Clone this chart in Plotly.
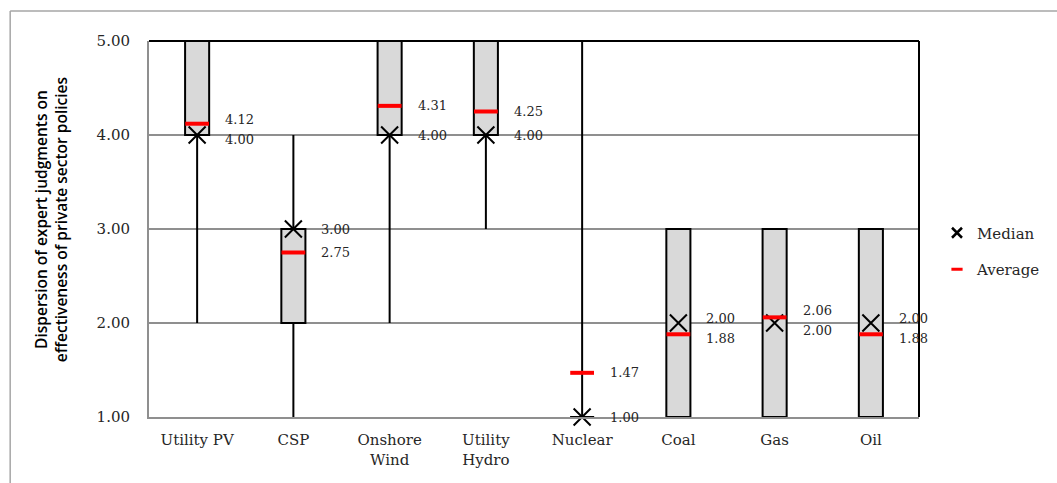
import plotly.graph_objects as go

# ---- data ----
categories = ["Utility PV", "CSP", "Onshore<br>Wind", "Utility<br>Hydro",
              "Nuclear", "Coal", "Gas", "Oil"]
low_vals = [2, 1, 2, 3, 1, 1, 1, 1]
high_vals = [5, 4, 5, 5, 5, 3, 3, 3]
q1_vals = [4, 2, 4, 4, 1, 1, 1, 1]
q3_vals = [5, 3, 5, 5, 1, 3, 3, 3]
median_vals = [4.00, 3.00, 4.00, 4.00, 1.00, 2.00, 2.00, 2.00]
average_vals = [4.12, 2.75, 4.31, 4.25, 1.47, 1.88, 2.06, 1.88]
y_ticks = [1, 2, 3, 4, 5]

SERIF = "DejaVu Serif"
TXT = "#262626"
GRID = "#8f8f8f"

L, R, T, B = 149, 137, 41, 66
W, H = 1057, 483
plot_w = W - L - R
plot_h = H - T - B
px_per_unit = plot_h / (y_ticks[-1] - y_ticks[0])

fig = go.Figure()

# whiskers (main subplot, beneath boxes)
wx, wy = [], []
for c, lo, hi in zip(categories, low_vals, high_vals):
    wx += [c, c, None]
    wy += [lo, hi, None]
fig.add_trace(go.Scatter(x=wx, y=wy, mode="lines", line=dict(color="black", width=2),
                         showlegend=False, hoverinfo="skip", xaxis="x", yaxis="y"))

# boxes (overlay subplot)
fig.add_trace(go.Bar(x=categories, y=[b - a for a, b in zip(q1_vals, q3_vals)], base=q1_vals,
                     width=0.25, marker=dict(color="#d9d9d9", line=dict(color="black", width=2)),
                     showlegend=False, hoverinfo="skip", xaxis="x2", yaxis="y2"))

# markers
fig.add_trace(go.Scatter(x=categories, y=median_vals, mode="markers", name="Median",
                         marker=dict(symbol="x-thin-open", size=17, color="black",
                                     line=dict(color="black", width=2)),
                         cliponaxis=False, showlegend=False, xaxis="x2", yaxis="y2"))
fig.add_trace(go.Scatter(x=categories, y=average_vals, mode="markers", name="Average",
                         marker=dict(symbol="line-ew-open", size=17, color="red",
                                     line=dict(color="red", width=4)),
                         cliponaxis=False, showlegend=False, xaxis="x2", yaxis="y2"))

# legend proxies
fig.add_trace(go.Scatter(x=[None], y=[None], mode="markers", name="Median", legendgroup="m",
                         marker=dict(symbol="x-thin-open", size=10, color="black",
                                     line=dict(color="black", width=2.5)),
                         xaxis="x2", yaxis="y2"))
fig.add_trace(go.Scatter(x=[None], y=[None], mode="markers", name="Average", legendgroup="a",
                         marker=dict(symbol="line-ew-open", size=8, color="red",
                                     line=dict(color="red", width=3)),
                         xaxis="x2", yaxis="y2"))

# value labels
annotations = []
min_sep = 20
for c, m, a in zip(categories, median_vals, average_vals):
    gap = abs(m - a) * px_per_unit
    d = max(0.0, (min_sep - gap) / 2)
    m_shift = d if m >= a else -d
    a_shift = -m_shift
    for v, s in ((m, m_shift), (a, a_shift)):
        annotations.append(dict(x=c, y=v, xref="x", yref="y", text=f"{v:.2f}",
                                showarrow=False, xanchor="left", yanchor="middle",
                                xshift=26, yshift=s,
                                font=dict(family=SERIF, size=13, color=TXT)))

# y-axis title
annotations.append(dict(x=(51 - L) / plot_w, y=(H - B - 220) / plot_h, xref="paper", yref="paper",
                        text="Dispersion of expert judgments on<br>effectiveness of private sector policies",
                        textangle=-90, showarrow=False, xanchor="center", yanchor="middle",
                        font=dict(family="Open Sans", size=15.5, color="black", weight=600)))

shapes = [
    dict(type="line", xref="paper", yref="paper", x0=0, x1=1, y0=1, y1=1,
         line=dict(color="black", width=2)),
    dict(type="line", xref="paper", yref="paper", x0=1, x1=1, y0=0, y1=1,
         line=dict(color="black", width=2)),
    # outer frame
    dict(type="line", xref="paper", yref="paper", x0=(10 - L) / plot_w, x1=(W + 5 - L) / plot_w,
         y0=(H - B - 11) / plot_h, y1=(H - B - 11) / plot_h, line=dict(color="#a6a6a6", width=1.5)),
    dict(type="line", xref="paper", yref="paper", x0=(10 - L) / plot_w, x1=(10 - L) / plot_w,
         y0=-(B + 5) / plot_h, y1=(H - B - 11) / plot_h, line=dict(color="#a6a6a6", width=1.5)),
]

fig.update_layout(
    width=W, height=H,
    margin=dict(l=L, r=R, t=T, b=B),
    paper_bgcolor="white", plot_bgcolor="white",
    barmode="overlay",
    showlegend=True,
    legend=dict(x=(937 - L) / plot_w, y=(H - B - 251) / plot_h, xanchor="left", yanchor="middle",
                traceorder="grouped", tracegroupgap=14, itemsizing="trace", itemwidth=30,
                font=dict(family=SERIF, size=15, color=TXT), bgcolor="rgba(0,0,0,0)"),
    xaxis=dict(type="category", categoryarray=categories, range=[-0.5, len(categories) - 0.5],
               showgrid=False, showline=True, linecolor=GRID, linewidth=2, ticks="",
               ticklabelstandoff=8, tickfont=dict(family=SERIF, size=15, color=TXT),
               zeroline=False, fixedrange=True),
    yaxis=dict(range=[y_ticks[0], y_ticks[-1]], tickvals=y_ticks, tickformat=".2f",
               showgrid=True, gridcolor=GRID, gridwidth=2, showline=True, linecolor=GRID,
               linewidth=2, ticks="", ticklabelstandoff=14, zeroline=False,
               tickfont=dict(family=SERIF, size=15, color=TXT), fixedrange=True),
    xaxis2=dict(type="category", categoryarray=categories, range=[-0.5, len(categories) - 0.5],
                overlaying="x", visible=False, fixedrange=True),
    yaxis2=dict(range=[y_ticks[0], y_ticks[-1]], overlaying="y", visible=False, fixedrange=True),
    annotations=annotations,
    shapes=shapes,
)

fig.write_html("out.html", config={"displayModeBar": False},
               post_script="document.body.style.margin='0';document.body.style.padding='0';")
